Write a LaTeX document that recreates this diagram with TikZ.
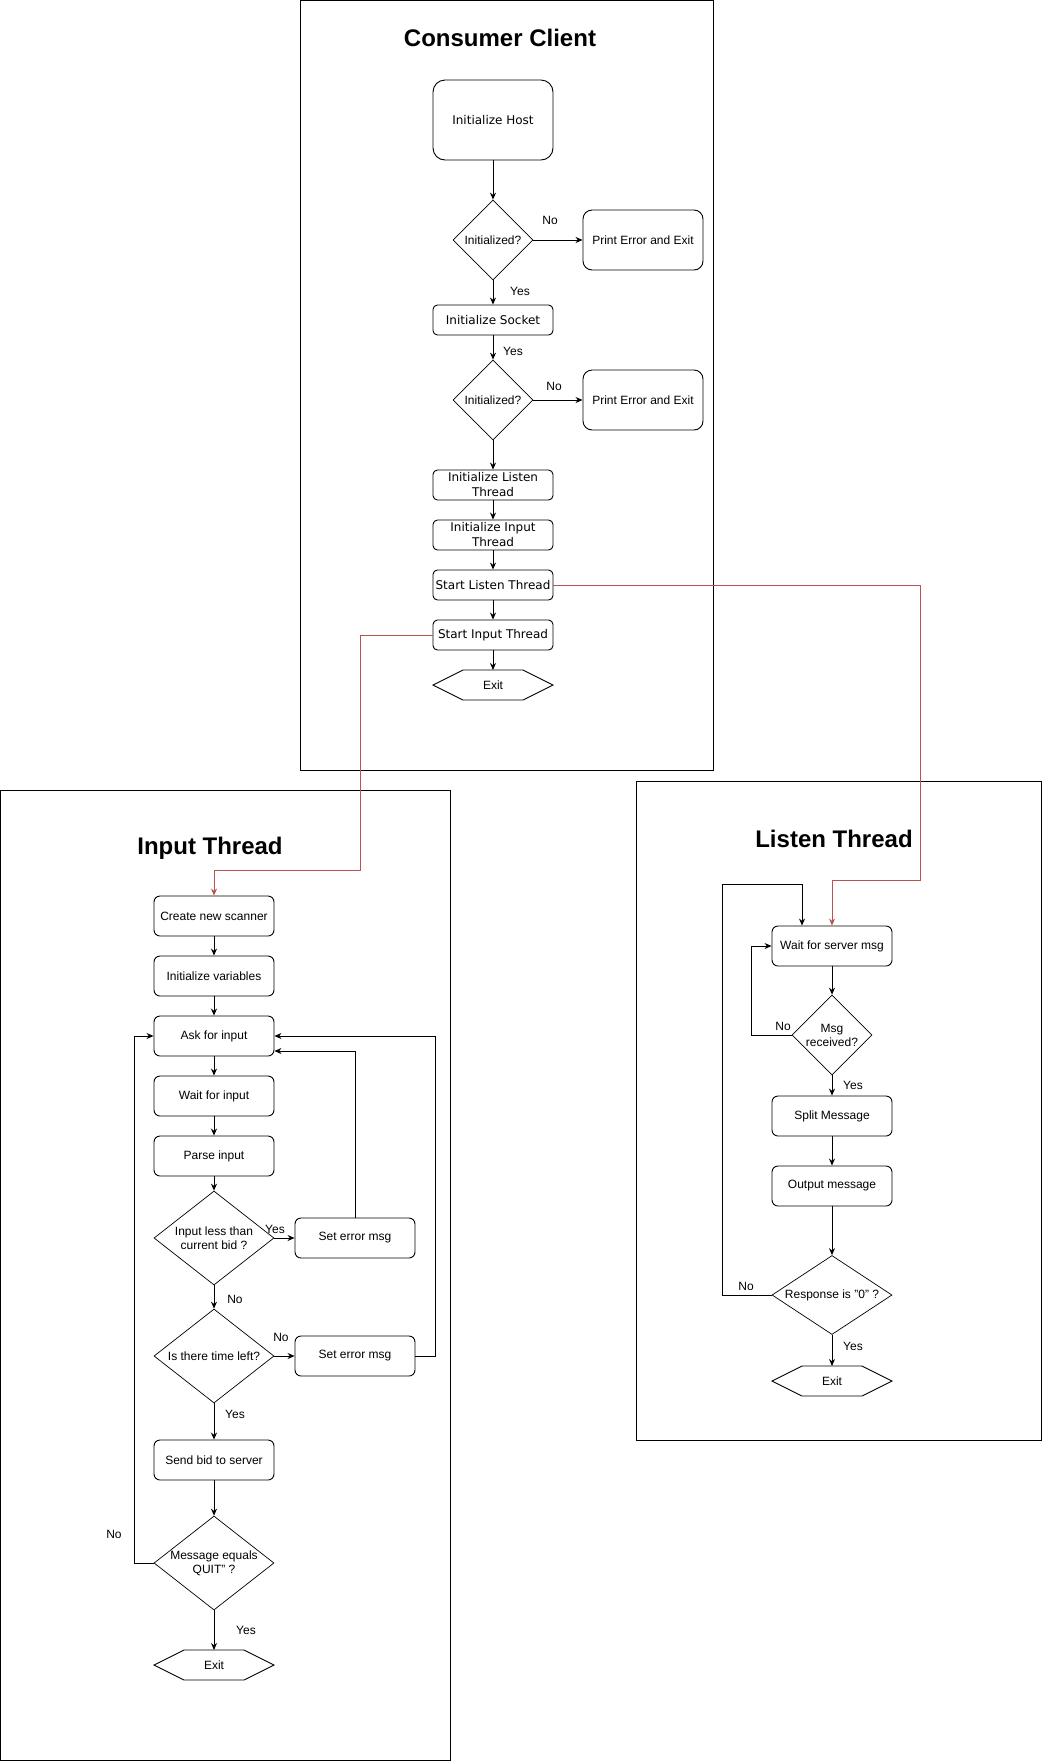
\documentclass[tikz,border=0pt]{standalone}
\usepackage{fontspec}
\setmainfont{Liberation Sans}
\newfontfamily\vfont{DejaVu Sans}
\usetikzlibrary{shapes.geometric,arrows.meta}
\definecolor{cred}{HTML}{B85450}
\begin{document}
\begin{tikzpicture}[x=1pt, y=-1pt, line width=0.9pt, >={Stealth[length=7pt,width=6pt]},
  every node/.style={font=\fontsize{12}{14}\selectfont, align=center},
  proc/.style={draw, rounded corners=6pt, minimum width=120pt, minimum height=40pt, inner xsep=2pt, inner ysep=0pt},
  vproc/.style={proc, font=\vfont\fontsize{12}{15}\selectfont, minimum height=30pt, rounded corners=4.5pt},
  dec/.style={draw, diamond, inner sep=0pt, line width=0.7pt},
  term/.style={minimum width=120pt, minimum height=30pt, inner sep=0pt, outer sep=0pt},
  lbl/.style={inner sep=0pt},
  title/.style={font=\fontsize{24}{28}\selectfont\bfseries},
  frame/.style={draw, line width=1pt},
  call/.style={draw=cred, ->}]
\useasboundingbox (0,0) rectangle (1042,1762);

% the three frames
\draw[frame] (300,0.5) rectangle (713,770);
\draw[frame] (0.5,790) rectangle (450,1760);
\draw[frame] (636,781) rectangle (1041,1440);

% Consumer Client
\node[title] (tcc) at (500,38) {Consumer Client};
\node[vproc, minimum height=80pt, rounded corners=12pt] (host) at (493,120) {Initialize Host};
\node[dec, minimum width=80pt, minimum height=80pt] (ok1) at (493,240) {Initialized?};
\node[proc, minimum height=60pt, rounded corners=9pt] (err1) at (643,240) {Print Error and Exit};
\node[vproc] (sock) at (493,320) {Initialize Socket};
\node[dec, minimum width=80pt, minimum height=80pt] (ok2) at (493,400) {Initialized?};
\node[proc, minimum height=60pt, rounded corners=9pt] (err2) at (643,400) {Print Error and Exit};
\node[vproc] (initL) at (493,485) {Initialize Listen\\Thread};
\node[vproc] (initI) at (493,535) {Initialize Input\\Thread};
\node[vproc] (startL) at (493,585) {Start Listen Thread};
\node[vproc] (startI) at (493,635) {Start Input Thread};
\node[term] (ex1) at (493,685) {Exit};
\node[lbl] (no1) at (550,220) {No};
\node[lbl] (yes1) at (520,291) {Yes};
\node[lbl] (yes2) at (513,351) {Yes};
\node[lbl] (no2) at (554,386) {No};

% Input Thread
\node[title] (tin) at (210,848) {Input Thread};
\node[proc] (scan) at (214,916) {Create new scanner};
\node[proc] (vars) at (214,976) {Initialize variables};
\node[proc] (ask) at (214,1036) {Ask for input};
\node[proc] (wfi) at (214,1096) {Wait for input};
\node[proc] (parse) at (214,1156) {Parse input};
\node[dec, minimum width=120pt, minimum height=94pt, aspect=1.28] (less) at (214,1238) {Input less than\\current bid ?};
\node[proc] (err3) at (355,1238) {Set error msg};
\node[dec, minimum width=120pt, minimum height=94pt, aspect=1.28] (time) at (214,1356) {Is there time left?};
\node[proc] (err4) at (355,1356) {Set error msg};
\node[proc] (send) at (214,1460) {Send bid to server};
\node[dec, minimum width=120pt, minimum height=94pt, aspect=1.28, inner xsep=-3pt] (quit) at (214,1563) {Message equals\\QUIT" ?};
\node[term] (ex2) at (214,1665) {Exit};
\node[lbl] (yes3) at (275,1229) {Yes};
\node[lbl] (no3) at (235,1299) {No};
\node[lbl] (no4) at (281,1337) {No};
\node[lbl] (yes4) at (235,1414) {Yes};
\node[lbl] (no5) at (114,1534) {No};
\node[lbl] (yes5) at (246,1630) {Yes};

% Listen Thread
\node[title] (tls) at (834,839) {Listen Thread};
\node[proc] (wsm) at (832,946) {Wait for server msg};
\node[dec, minimum width=80pt, minimum height=80pt] (rcv) at (832,1035) {Msg\\received?};
\node[proc] (split) at (832,1116) {Split Message};
\node[proc] (out) at (832,1186) {Output message};
\node[dec, minimum width=120pt, minimum height=79pt, aspect=1.52] (resp) at (832,1295) {Response is "0" ?};
\node[term] (ex3) at (832,1381) {Exit};
\node[lbl] (no6) at (783,1026) {No};
\node[lbl] (yes6) at (853,1085) {Yes};
\node[lbl] (no7) at (746,1286) {No};
\node[lbl] (yes7) at (853,1346) {Yes};

% hexagon ends
\foreach \n in {ex1,ex2,ex3}
  \draw (\n.west) -- ([xshift=30pt]\n.north west) -- ([xshift=-30pt]\n.north east) -- (\n.east)
    -- ([xshift=-30pt]\n.south east) -- ([xshift=30pt]\n.south west) -- cycle;

% straight steps
\foreach \a/\b in {host/ok1, ok1/err1, ok1/sock, sock/ok2, ok2/err2, ok2/initL, initL/initI,
    initI/startL, startL/startI, startI/ex1,
    scan/vars, vars/ask, ask/wfi, wfi/parse, parse/less, less/err3, less/time, time/err4,
    time/send, send/quit, quit/ex2,
    wsm/rcv, rcv/split, split/out, out/resp, resp/ex3}
  \draw[->] (\a) -- (\b);

% loops back
\coordinate (lt) at (722,884);
\draw[->] (err3.north) |- ([yshift=-15pt]ask.east);
\draw[->] (err4.east) -- ++(20,0) |- (ask.east);
\draw[->] (quit.west) -- ++(-19,0) |- (ask.west);
\draw[->] (rcv.west) -- ++(-40,0) |- (wsm.west);
\draw[->] (resp.west) -| (lt) -| ([xshift=-30pt]wsm.north);

% thread starts
\coordinate (rl) at (920,880);
\coordinate (ri) at (360,870);
\draw[call] (startL.east) -| (rl) -| (wsm.north);
\draw[call] (startI.west) -| (ri) -| (scan.north);
\end{tikzpicture}
\end{document}
